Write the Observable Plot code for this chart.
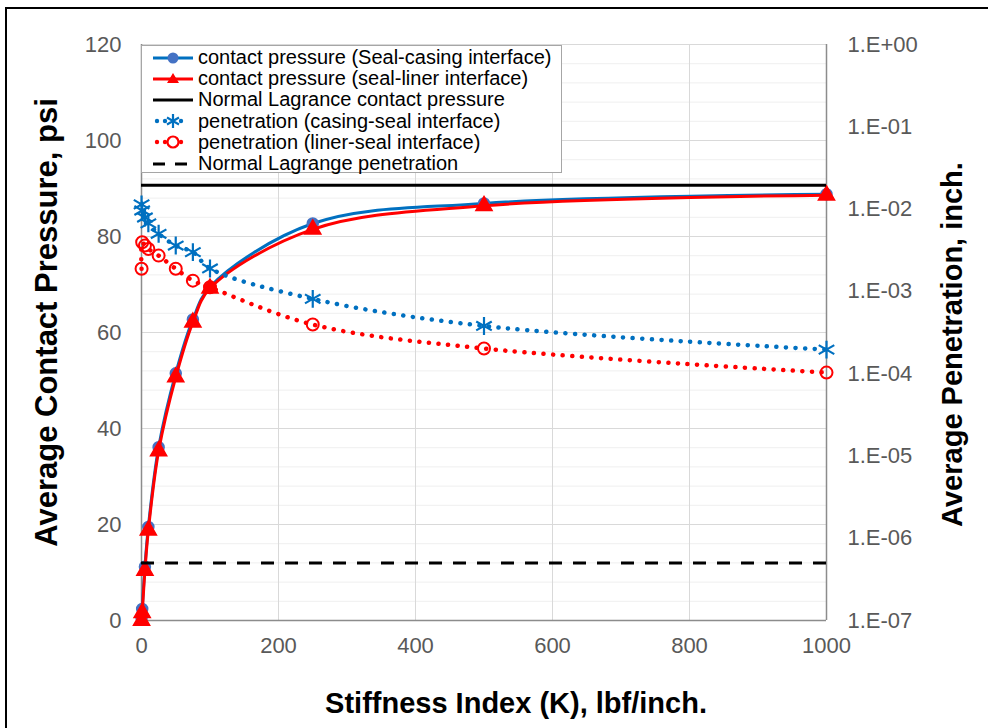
<!DOCTYPE html>
<html><head><meta charset="utf-8">
<script src="https://cdn.jsdelivr.net/npm/d3@7"></script>
<script src="https://cdn.jsdelivr.net/npm/@observablehq/plot@0.6"></script>
<style>
body{margin:0;background:#fff;font-family:"Liberation Sans",Arial,sans-serif;}
#wrap{position:relative;width:988px;height:728px;overflow:hidden;background:#fff;}
#wrap svg{position:absolute;left:0;top:0;}
#border{position:absolute;left:5px;top:7px;width:1000px;height:800px;border:2.5px solid #000;box-sizing:border-box;pointer-events:none;}
#legend{position:absolute;left:141px;top:45px;width:421px;height:128px;background:#fff;border:1.5px solid #a6a6a6;box-sizing:border-box;padding-top:0px;}
.row{position:absolute;left:10px;height:21px;display:flex;align-items:center;font-size:20px;color:#000;white-space:nowrap;}
.row svg{position:static !important;margin-right:4px;}
</style>
</head><body>
<div id="wrap"><div id="border"></div></div>
<script>
// ---- data ----
const stiffness = [0.1, 1, 5, 10, 25, 50, 75, 100, 250, 500, 1000];
const pressureCasing = [0.5, 2.4, 11.2, 19.5, 36.1, 51.5, 62.7, 69.5, 82.7, 86.9, 88.8];
const pressureLiner = [0, 1.6, 10.4, 18.8, 35.3, 50.7, 62.1, 69.2, 81.5, 86.4, 88.6];
const penetrationCasing = [0.0114, 0.0096, 0.0079, 0.0067, 0.0050, 0.0036, 0.0030, 0.0019, 0.00081, 0.00038, 0.000196];
const penetrationLiner = [0.00188, 0.00395, 0.0036, 0.00328, 0.00272, 0.00188, 0.00135, 0.00112, 0.000395, 0.000202, 0.000103];
const lagrangePressure = 90.7;
const lagrangePenetration = 5.0e-7;
const xTicks = [0, 200, 400, 600, 800, 1000];
const yTicks = [0, 20, 40, 60, 80, 100, 120];
const yMinorTicks = d3.range(0, 121, 4);
const penExponents = [-7, -6, -5, -4, -3, -2, -1, 0];
const penTickLabels = ["1.E-07", "1.E-06", "1.E-05", "1.E-04", "1.E-03", "1.E-02", "1.E-01", "1.E+00"];
const seriesNames = [
  "contact pressure (Seal-casing interface)",
  "contact pressure (seal-liner interface)",
  "Normal Lagrance contact pressure",
  "penetration (casing-seal interface)",
  "penetration (liner-seal interface)",
  "Normal Lagrange penetration"
];

// right (log) axis mapped onto left axis range
const penMin = -7, penMax = 0, yMax = 120;
const pen = v => (Math.log10(v) - penMin) / (penMax - penMin) * yMax;
const penTicks = penExponents.map(e => pen(Math.pow(10, e)));

const blueLine = "#0070C0", blueMarker = "#4472C4", red = "#FF0000";
const rows = (ys, f = d => d) => stiffness.map((x, i) => ({x, y: f(ys[i])}));
const casingP = rows(pressureCasing), linerP = rows(pressureLiner);
const casingPen = rows(penetrationCasing, pen), linerPen = rows(penetrationLiner, pen);

const chart = Plot.plot({
  width: 988, height: 728,
  marginLeft: 141, marginRight: 162, marginTop: 44, marginBottom: 108,
  style: {fontFamily: "'Liberation Sans', Arial, sans-serif", color: "#595959", background: "transparent"},
  x: {domain: [0, 1000]},
  y: {domain: [0, 120]},
  marks: [
    Plot.ruleY(yMinorTicks, {stroke: "#efefef", strokeWidth: 1}),
    Plot.ruleY(yTicks, {stroke: "#d9d9d9", strokeWidth: 1}),
    Plot.ruleX(xTicks, {stroke: "#d9d9d9", strokeWidth: 1}),
    Plot.ruleY([0], {stroke: "#8c8c8c", strokeWidth: 1.5}),
    Plot.ruleX([0, 1000], {stroke: "#8c8c8c", strokeWidth: 1.5}),
    Plot.axisX(xTicks, {tickSize: 0, tickPadding: 17, fontSize: 22, label: null, fill: "#595959", tickFormat: d => String(d)}),
    Plot.axisY(yTicks, {anchor: "left", tickSize: 0, tickPadding: 20, fontSize: 22, label: null, fill: "#595959"}),
    Plot.axisY(penTicks, {anchor: "right", tickSize: 0, tickPadding: 21, fontSize: 22, label: null, fill: "#595959",
      tickFormat: d => penTickLabels[Math.round(d / yMax * (penMax - penMin))]}),
    // series
    Plot.line(casingP, {x: "x", y: "y", stroke: blueLine, strokeWidth: 3, curve: "catmull-rom"}),
    Plot.dot(casingP, {x: "x", y: "y", r: 5.5, fill: blueMarker, stroke: blueMarker}),
    Plot.line(linerP, {x: "x", y: "y", stroke: red, strokeWidth: 3, curve: "catmull-rom"}),
    Plot.dot(linerP, {x: "x", y: "y", r: 6, symbol: "triangle", fill: red, stroke: red}),
    Plot.ruleY([lagrangePressure], {x1: 0, x2: 1000, stroke: "#000", strokeWidth: 3}),
    Plot.line(casingPen, {x: "x", y: "y", stroke: blueLine, strokeWidth: 4.5, strokeDasharray: "0.1 9.5", strokeLinecap: "round", curve: "catmull-rom"}),
    Plot.dot(casingPen, {x: "x", y: "y", r: 8.5, symbol: "asterisk", stroke: blueLine, strokeWidth: 2.2}),
    Plot.line(linerPen, {x: "x", y: "y", stroke: red, strokeWidth: 4.5, strokeDasharray: "0.1 9.5", strokeLinecap: "round", curve: "catmull-rom"}),
    Plot.dot(linerPen, {x: "x", y: "y", r: 6, symbol: "circle", fill: "none", stroke: red, strokeWidth: 2}),
    Plot.ruleY([pen(lagrangePenetration)], {x1: 0, x2: 1000, stroke: "#000", strokeWidth: 3, strokeDasharray: "13 11"}),
    // axis titles
    Plot.text(["Average Contact Pressure, psi"], {frameAnchor: "left", textAnchor: "middle", rotate: -90, dx: -94, dy: -10, fontSize: 31, fontWeight: "bold", fill: "#000"}),
    Plot.text(["Average Penetration, inch."], {frameAnchor: "right", textAnchor: "middle", rotate: -90, dx: 126, dy: 12, fontSize: 29, fontWeight: "bold", fill: "#000"}),
    Plot.text(["Stiffness Index (K), lbf/inch."], {frameAnchor: "bottom", textAnchor: "middle", dx: 32, dy: 92, fontSize: 29, fontWeight: "bold", fill: "#000"})
  ]
});
const wrap = document.getElementById("wrap");
wrap.insertBefore(chart, wrap.firstChild);

// legend
const legend = document.createElement("div");
legend.id = "legend";
const ns = "http://www.w3.org/2000/svg";
function swatch(kind) {
  const s = document.createElementNS(ns, "svg");
  s.setAttribute("width", 42); s.setAttribute("height", 20);
  const add = (tag, attrs) => { const e = document.createElementNS(ns, tag); for (const k in attrs) e.setAttribute(k, attrs[k]); s.appendChild(e); return e; };
  if (kind === 0) { add("line", {x1: 1, x2: 41, y1: 10, y2: 10, stroke: blueLine, "stroke-width": 3}); add("circle", {cx: 21, cy: 10, r: 5.5, fill: blueMarker}); }
  if (kind === 1) { add("line", {x1: 1, x2: 41, y1: 10, y2: 10, stroke: red, "stroke-width": 3}); add("path", {d: "M21,4 L27,14 L15,14 Z", fill: red}); }
  if (kind === 2) { add("line", {x1: 1, x2: 41, y1: 10, y2: 10, stroke: "#000", "stroke-width": 3}); }
  if (kind === 3) { add("circle", {cx: 5, cy: 10, r: 2.2, fill: blueLine}); add("path", {d: "M21,3 L21,17 M15,6.5 L27,13.5 M15,13.5 L27,6.5", stroke: blueLine, "stroke-width": 2.2}); add("circle", {cx: 13, cy: 10, r: 2.2, fill: blueLine}); add("circle", {cx: 29, cy: 10, r: 2.2, fill: blueLine}); }
  if (kind === 4) { add("circle", {cx: 5, cy: 10, r: 2.2, fill: red}); add("circle", {cx: 21, cy: 10, r: 5.5, fill: "none", stroke: red, "stroke-width": 2.2}); add("circle", {cx: 13, cy: 10, r: 2.2, fill: red}); add("circle", {cx: 29, cy: 10, r: 2.2, fill: red}); }
  if (kind === 5) { add("line", {x1: 1, x2: 41, y1: 10, y2: 10, stroke: "#000", "stroke-width": 3, "stroke-dasharray": "12 10"}); }
  return s;
}
seriesNames.forEach((name, i) => {
  const r = document.createElement("div");
  r.className = "row";
  r.style.top = (1 + i * 21.2) + "px";
  r.appendChild(swatch(i));
  const t = document.createElement("span"); t.textContent = name; r.appendChild(t);
  legend.appendChild(r);
});
wrap.appendChild(legend);
</script>
</body></html>
